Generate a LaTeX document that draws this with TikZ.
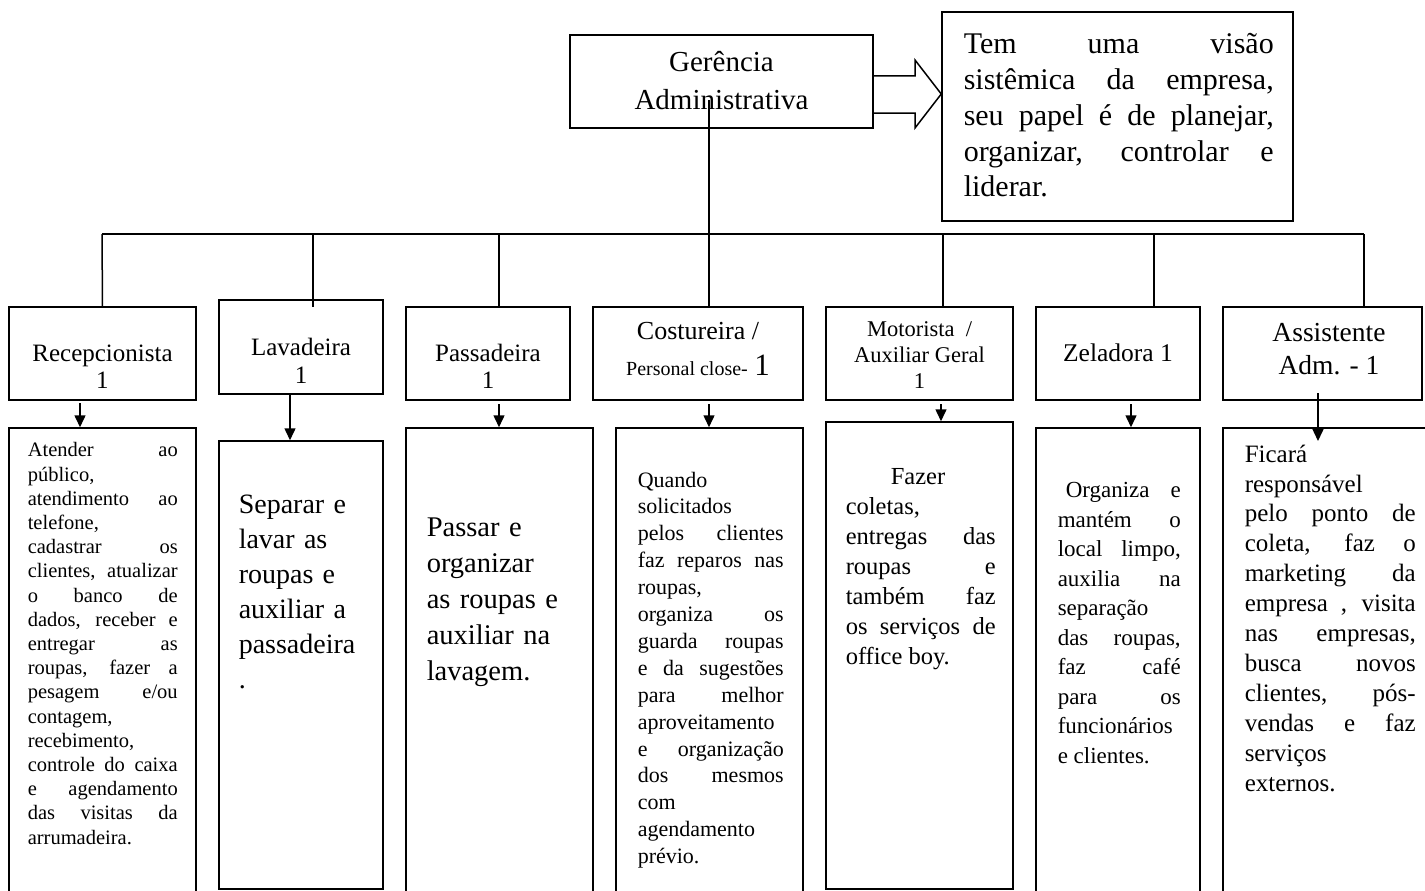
\documentclass[tikz,border=0pt]{standalone}
\usepackage{fontspec}
\setmainfont{Liberation Serif}
\usepackage{tikz}
\usetikzlibrary{arrows.meta,positioning}
\tikzstyle{cargo}=[draw, line width=1.5pt, inner sep=0pt]
\tikzstyle{tarefa}=[draw, line width=1.5pt, inner sep=0pt]
\tikzstyle{rotulo}=[align=center, inner sep=0pt]
\tikzstyle{corpo}=[anchor=north west, align=justify, inner sep=0pt]
\tikzstyle{lista}=[anchor=north west, align=left, inner sep=0pt]
\tikzstyle{seta}=[-{Triangle[width=11pt,length=12pt]}]
\newcommand{\fs}[2]{\fontsize{#1}{#2}\selectfont}
\hyphenpenalty=10000
\exhyphenpenalty=10000
\tolerance=10000
\hbadness=10000

\begin{document}
\begin{tikzpicture}
[x=1pt, y=-1pt, line width=1.5pt]
 \useasboundingbox (0,0) rectangle (1425,891);
 \clip (0,0) rectangle (1425,891);
 \node[cargo, minimum width=303pt, minimum height=93pt] (ger) at (721.5,81.5) {};
 \node[rotulo, font=\fs{29}{38}] (gerRot) at (721.5,81) {Ger\^encia\\Administrativa};
 \node[cargo, minimum width=351pt, minimum height=209pt] (desc) at (1117.5,116.5) {};
 \node[corpo, text width=310pt, font=\fs{30}{35.75}] (descTxt) at (963,33)
   {Tem uma visão\linebreak sistêmica da empresa,\linebreak seu papel é de planejar,\linebreak organizar, controlar e\linebreak liderar.};
 \draw[line join=miter] (ger.east |- 0,76) -- (915,76) -- (915,60) -- (desc.west |- 0,94)
   -- (915,128) -- (915,113) -- (ger.east |- 0,113);

 \node[cargo, minimum width=187pt, minimum height=93pt] (recep) at (102.5,353.5) {};
 \node[cargo, minimum width=164pt, minimum height=94pt] (lavad) at (301,347) {};
 \node[cargo, minimum width=164pt, minimum height=93pt] (passad) at (488,353.5) {};
 \node[cargo, minimum width=210pt, minimum height=93pt] (costur) at (698,353.5) {};
 \node[cargo, minimum width=187pt, minimum height=93pt] (motor) at (919.5,353.5) {};
 \node[cargo, minimum width=164pt, minimum height=93pt] (zelad) at (1118,353.5) {};
 \node[cargo, minimum width=199pt, minimum height=93pt] (assist) at (1322.5,353.5) {};

 \node[rotulo, font=\fs{25}{27}] (recepRot) at (102.5,366.5) {Recepcionista\\1};
 \node[rotulo, font=\fs{25}{28}] (lavadRot) at (301,361) {Lavadeira\\1};
 \node[rotulo, font=\fs{25}{27}] (passadRot) at (488,366.5) {Passadeira\\1};
 \node[rotulo, font=\fs{26}{36}] (costurRot) at (698,348.5)
   {Costureira /\\{\fs{20}{24}Personal close-} {\fs{31}{36}1}};
 \node[rotulo, font=\fs{22.5}{26}] (motorRot) at (919.5,355) {Motorista~~/\\Auxiliar Geral\\1};
 \node[rotulo, font=\fs{25.5}{30}] (zeladRot) at (1118,353) {Zeladora 1};
 \node[rotulo, font=\fs{27.5}{33}] (assistRot) at (1329,349.5) {Assistente\\Adm. - 1};

 \node[tarefa, minimum width=187pt, minimum height=482pt] (recepT) at (102.5,669) {};
 \node[tarefa, minimum width=164pt, minimum height=448pt] (lavadT) at (301,665) {};
 \node[tarefa, minimum width=187pt, minimum height=482pt] (passadT) at (499.5,669) {};
 \node[tarefa, minimum width=187pt, minimum height=482pt] (costurT) at (709.5,669) {};
 \node[tarefa, minimum width=187pt, minimum height=467pt] (motorT) at (919.5,655.5) {};
 \node[tarefa, minimum width=164pt, minimum height=482pt] (zeladT) at (1118,669) {};
 \node[tarefa, minimum width=222pt, minimum height=482pt] (assistT) at (1334,669) {};

 \node[corpo, text width=150pt, font=\fs{20.5}{24.2}] (recepTxt) at (27,442)
   {Atender ao\linebreak público,\linebreak atendimento ao\linebreak telefone,\linebreak
    cadastrar os\linebreak clientes, atualizar\linebreak o banco de\linebreak
    dados, receber e\linebreak entregar as\linebreak roupas, fazer a\linebreak
    pesagem e/ou\linebreak contagem,\linebreak recebimento,\linebreak
    controle do caixa\linebreak e agendamento\linebreak das visitas da\linebreak arrumadeira.};
 \node[lista, text width=140pt, font=\fs{28}{35}] (lavadTxt) at (238,494)
   {Separar e\\lavar as\\roupas e\\auxiliar a\\passadeira\\.};
 \node[lista, text width=150pt, font=\fs{28.5}{36}] (passadTxt) at (426,517)
   {Passar e\\organizar\\as roupas e\\auxiliar na\\lavagem.};
 \node[corpo, text width=146pt, font=\fs{22}{26.9}] (costurTxt) at (637,471)
   {Quando\linebreak solicitados\linebreak pelos clientes\linebreak faz reparos nas\linebreak
    roupas,\linebreak organiza os\linebreak guarda roupas\linebreak e da sugestões\linebreak
    para melhor\linebreak aproveitamento\linebreak e organização\linebreak dos mesmos\linebreak
    com\linebreak agendamento\linebreak prévio.};
 \node[corpo, text width=150pt, font=\fs{24.5}{30}] (motorTxt) at (845,468)
   {\hspace*{45pt}Fazer\linebreak coletas,\linebreak entregas das\linebreak roupas e\linebreak
    também faz\linebreak os serviços de\linebreak office boy.};
 \node[corpo, text width=123pt, font=\fs{23}{29.5}] (zeladTxt) at (1057,482)
   {\hspace*{8pt}Organiza e\linebreak mantém o\linebreak local limpo,\linebreak auxilia na\linebreak
    separação\linebreak das roupas,\linebreak faz café\linebreak para os\linebreak
    funcionários\linebreak e clientes.};
 \node[corpo, text width=171pt, font=\fs{25}{29.9}] (assistTxt) at (1244,444)
   {Ficará\linebreak responsável\linebreak pelo ponto de\linebreak coleta, faz o\linebreak
    marketing da\linebreak empresa , visita\linebreak nas empresas,\linebreak busca novos\linebreak
    clientes, pós-\linebreak vendas e faz\linebreak serviços\linebreak externos.};

 \coordinate (gerPe) at (709,100);
 \coordinate (busL) at (102,234);
 \coordinate (busR) at (1364,234);
 \coordinate (lavadTopo) at (313,307);
 \coordinate (passadTopo) at (499,307);
 \coordinate (costurTopo) at (709,307);
 \coordinate (motorTopo) at (943,307);
 \coordinate (zeladTopo) at (1154,307);
 \coordinate (assistTopo) at (1364,307);
 \draw (gerPe) -- (gerPe |- busL);
 \draw (busL) -- (busR);
 \draw (busL) -- (recep.north);
 \draw (lavadTopo |- busL) -- (lavadTopo);
 \draw (passadTopo |- busL) -- (passadTopo);
 \draw (costurTopo |- busL) -- (costurTopo);
 \draw (motorTopo |- busL) -- (motorTopo);
 \draw (zeladTopo |- busL) -- (zeladTopo);
 \draw (assistTopo |- busL) -- (assistTopo);

 \coordinate (recepSai) at (80,403);
 \coordinate (lavadSai) at (290,394);
 \coordinate (passadSai) at (499,404);
 \coordinate (costurSai) at (709,404);
 \coordinate (motorSai) at (941,404);
 \coordinate (zeladSai) at (1131,404);
 \coordinate (assistSai) at (1318,393);
 \coordinate (assistPonta) at (1318,441);
 \draw[seta] (recepSai) -- (recepSai |- recepT.north);
 \draw[seta] (lavadSai) -- (lavadSai |- lavadT.north);
 \draw[seta] (passadSai) -- (passadSai |- passadT.north);
 \draw[seta] (costurSai) -- (costurSai |- costurT.north);
 \draw[seta] (motorSai) -- (motorSai |- motorT.north);
 \draw[seta] (zeladSai) -- (zeladSai |- zeladT.north);
 \draw[seta] (assistSai) -- (assistPonta);
\end{tikzpicture}
\end{document}
